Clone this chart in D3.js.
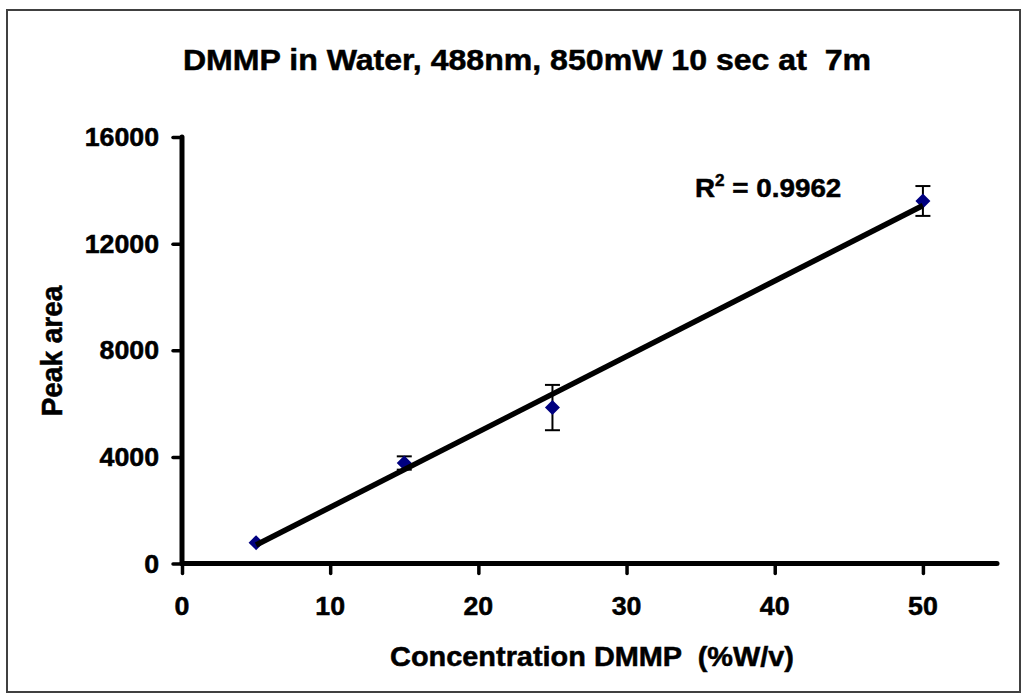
<!DOCTYPE html>
<html><head><meta charset="utf-8">
<script src="https://cdn.jsdelivr.net/npm/d3@7"></script>
<style>html,body{margin:0;padding:0;background:#fff;}svg{display:block;} text{white-space:pre;}</style>
</head><body>
<svg id="c" width="1026" height="696"></svg>
<script>
const concentrations = [5, 15, 25, 50];
const peakArea = [780, 3770, 5850, 13600];
const errorBars = [0, 250, 850, 560];
const xTicks = [0, 10, 20, 30, 40, 50];
const yTicks = [0, 4000, 8000, 12000, 16000];
const titleText = "DMMP in Water, 488nm, 850mW 10 sec at  7m";
const xLabel = "Concentration DMMP  (%W/v)";
const yLabel = "Peak area";
const r2Label = "0.9962";

const svg = d3.select("#c");
const FONT = "'Liberation Sans', Arial, sans-serif";
const SX = 1.07;

svg.append("rect").attr("x", 7).attr("y", 10).attr("width", 1013).attr("height", 682)
  .attr("fill", "#fff").attr("stroke", "#404040").attr("stroke-width", 2);

const x = d3.scaleLinear().domain([0, 55]).range([182, 997]);
const y = d3.scaleLinear().domain([0, 16000]).range([563.5, 137]);

function stretchedText(g, tx, ty, str, size, anchor) {
  return g.append("text")
    .attr("transform", `translate(${tx},${ty}) scale(${SX},1)`)
    .attr("text-anchor", anchor)
    .attr("font-family", FONT).attr("font-weight", "bold")
    .attr("font-size", size).attr("fill", "#000")
    .attr("stroke", "#000").attr("stroke-width", 0.5)
    .attr("xml:space", "preserve").text(str);
}

// Axes
const xAxis = svg.append("g").attr("transform", `translate(0,${y(0)})`)
  .call(d3.axisBottom(x).tickValues(xTicks).tickSize(10).tickFormat(""));
const yAxis = svg.append("g").attr("transform", `translate(${x(0)},0)`)
  .call(d3.axisLeft(y).tickValues(yTicks).tickSize(9).tickFormat(""));
[xAxis, yAxis].forEach(a => {
  a.select(".domain").attr("stroke", "#000").attr("stroke-width", 5).attr("stroke-linecap", "round");
  a.selectAll(".tick line").attr("stroke", "#000").attr("stroke-width", 3.5).attr("stroke-linecap", "round");
});
xAxis.select(".domain").attr("d", `M${x(0)},0H${x(55)}`);
yAxis.select(".domain").attr("d", `M0,${y(16000)}V${y(0)}`);

const labels = svg.append("g");
xTicks.forEach(t => stretchedText(labels, x(t), 615, String(t), 25, "middle"));
yTicks.forEach(t => stretchedText(labels, 159, y(t) + 9, String(t), 25, "end"));

// Titles
stretchedText(svg, 527, 70, titleText, 30, "middle");
stretchedText(svg, 592, 666, xLabel, 27, "middle");
svg.append("text")
  .attr("transform", `translate(62,351) scale(${SX},1) rotate(-90)`)
  .attr("text-anchor", "middle").attr("font-family", FONT).attr("font-weight", "bold")
  .attr("stroke", "#000").attr("stroke-width", 0.5)
  .attr("font-size", 28).text(yLabel);

// R^2 label
const r2 = svg.append("text")
  .attr("transform", `translate(695,197) scale(${SX},1)`)
  .attr("font-family", FONT).attr("font-weight", "bold").attr("font-size", 26)
  .attr("stroke", "#000").attr("stroke-width", 0.5);
r2.append("tspan").text("R");
r2.append("tspan").attr("dy", -11).attr("font-size", 16).text("2");
r2.append("tspan").attr("dy", 11).text(" = " + r2Label);

const data = concentrations.map((c, i) => ({x: c, y: peakArea[i], e: errorBars[i]}));

// Error bars
const eb = svg.append("g").attr("stroke", "#000").attr("stroke-width", 2);
data.filter(d => d.e > 0).forEach(d => {
  eb.append("line").attr("x1", x(d.x)).attr("x2", x(d.x)).attr("y1", y(d.y - d.e)).attr("y2", y(d.y + d.e));
  [d.y - d.e, d.y + d.e].forEach(v =>
    eb.append("line").attr("x1", x(d.x) - 7.5).attr("x2", x(d.x) + 7.5).attr("y1", y(v)).attr("y2", y(v)));
});

// Diamonds
svg.append("g").selectAll("path").data(data).join("path")
  .attr("transform", d => `translate(${x(d.x)},${y(d.y)})`)
  .attr("d", "M0,-7.5L7.5,0L0,7.5L-7.5,0Z").attr("fill", "#000080");

// Linear trend line (least squares fit)
const mx = d3.mean(data, d => d.x), my = d3.mean(data, d => d.y);
const slope = d3.sum(data, d => (d.x - mx) * (d.y - my)) / d3.sum(data, d => (d.x - mx) ** 2);
const icpt = my - slope * mx;
const xs = d3.extent(concentrations);
svg.append("line")
  .attr("x1", x(xs[0])).attr("y1", y(icpt + slope * xs[0]))
  .attr("x2", x(xs[1])).attr("y2", y(icpt + slope * xs[1]))
  .attr("stroke", "#000").attr("stroke-width", 5.5);
</script>
</body></html>
